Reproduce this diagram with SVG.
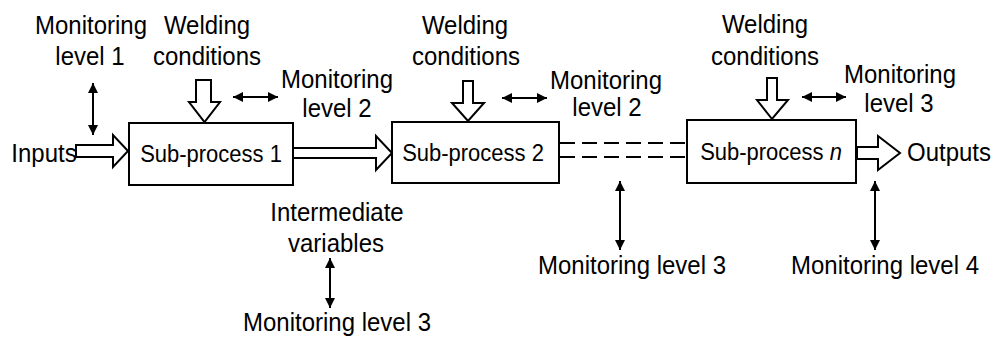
<svg xmlns="http://www.w3.org/2000/svg" width="996" height="340" viewBox="0 0 996 340">
<style>
text{font-family:"Liberation Sans",Arial,sans-serif;font-size:24px;fill:#000;text-anchor:middle}
.box{fill:#fff;stroke:#000;stroke-width:2}
.lbl{font-size:22px}
.hollow{fill:#fff;stroke:#000;stroke-width:2;stroke-linejoin:miter}
.dbl{stroke:#000;stroke-width:2;fill:none;marker-start:url(#ah);marker-end:url(#ah)}
.dash{stroke:#000;stroke-width:2;stroke-dasharray:15 7;fill:none}
</style>
<defs>
<marker id="ah" viewBox="0 0 10 10" refX="10" refY="5" markerWidth="10" markerHeight="10" markerUnits="userSpaceOnUse" orient="auto-start-reverse">
<path d="M0,0 L10,5 L0,10 z" fill="#000"/>
</marker>
</defs>
<g id="connectors">
<polygon class="hollow" points="76,145 113,145 113,135 128,151 113,167 113,157 76,157"/>
<polygon class="hollow" points="293,148 376,148 376,136 392,153 376,170 376,158 293,158"/>
<polygon class="hollow" points="857,147 878,147 878,136 900,153 878,170 878,159 857,159"/>
<polygon class="hollow" points="196,80 211,80 211,102 220,102 204.5,122 189,102 196,102"/>
<polygon class="hollow" points="463,81 473,81 473,103 484,103 468,121 452,103 463,103"/>
<polygon class="hollow" points="767,78 777,78 777,100 788,100 772,119 757,100 767,100"/>
<line class="dash" x1="560" y1="143" x2="686" y2="143"/>
<line class="dash" x1="560" y1="157" x2="686" y2="157"/>
<line class="dbl" x1="93" y1="83" x2="93" y2="135"/>
<line class="dbl" x1="233" y1="97" x2="278" y2="97"/>
<line class="dbl" x1="502" y1="98" x2="547" y2="98"/>
<line class="dbl" x1="802" y1="97" x2="846" y2="97"/>
<line class="dbl" x1="330" y1="258" x2="330" y2="308"/>
<line class="dbl" x1="620" y1="181" x2="620" y2="250"/>
<line class="dbl" x1="875" y1="181" x2="875" y2="250"/>
</g>
<g id="sub1">
<rect class="box" x="129" y="123" width="164" height="62"/>
<text class="lbl" transform="translate(211,162) scale(1,1.1)">Sub-process 1</text>
</g>
<g id="sub2">
<rect class="box" x="392" y="122" width="167" height="61"/>
<text class="lbl" transform="translate(473,161) scale(1,1.1)">Sub-process 2</text>
</g>
<g id="subn">
<rect class="box" x="687" y="120" width="169" height="63"/>
<text class="lbl" transform="translate(771,160) scale(1,1.1)">Sub-process <tspan font-style="italic">n</tspan></text>
</g>
<g id="inputs"><text transform="translate(44,162) scale(1,1.08)">Inputs</text></g>
<g id="outputs"><text transform="translate(907,161) scale(1,1.08)" style="text-anchor:start">Outputs</text></g>
<g id="mon1"><text transform="translate(91,34) scale(1,1.08)">Monitoring</text><text transform="translate(90,65) scale(1,1.08)">level 1</text></g>
<g id="weld1"><text transform="translate(207,34) scale(1,1.08)">Welding</text><text transform="translate(207,65) scale(1,1.08)">conditions</text></g>
<g id="mon2a"><text transform="translate(337,88) scale(1,1.08)">Monitoring</text><text transform="translate(337,117) scale(1,1.08)">level 2</text></g>
<g id="weld2"><text transform="translate(465,34) scale(1,1.08)">Welding</text><text transform="translate(466,65) scale(1,1.08)">conditions</text></g>
<g id="mon2b"><text transform="translate(606,89) scale(1,1.08)">Monitoring</text><text transform="translate(607,116) scale(1,1.08)">level 2</text></g>
<g id="weld3"><text transform="translate(765,33) scale(1,1.08)">Welding</text><text transform="translate(765,65) scale(1,1.08)">conditions</text></g>
<g id="mon3a"><text transform="translate(900,83) scale(1,1.08)">Monitoring</text><text transform="translate(899,112) scale(1,1.08)">level 3</text></g>
<g id="inter"><text transform="translate(337,221) scale(1,1.08)">Intermediate</text><text transform="translate(336,252) scale(1,1.08)">variables</text></g>
<g id="mon3b"><text transform="translate(337,331) scale(1,1.08)">Monitoring level 3</text></g>
<g id="mon3c"><text transform="translate(632,274) scale(1,1.08)">Monitoring level 3</text></g>
<g id="mon4"><text transform="translate(885,274) scale(1,1.08)">Monitoring level 4</text></g>
</svg>
